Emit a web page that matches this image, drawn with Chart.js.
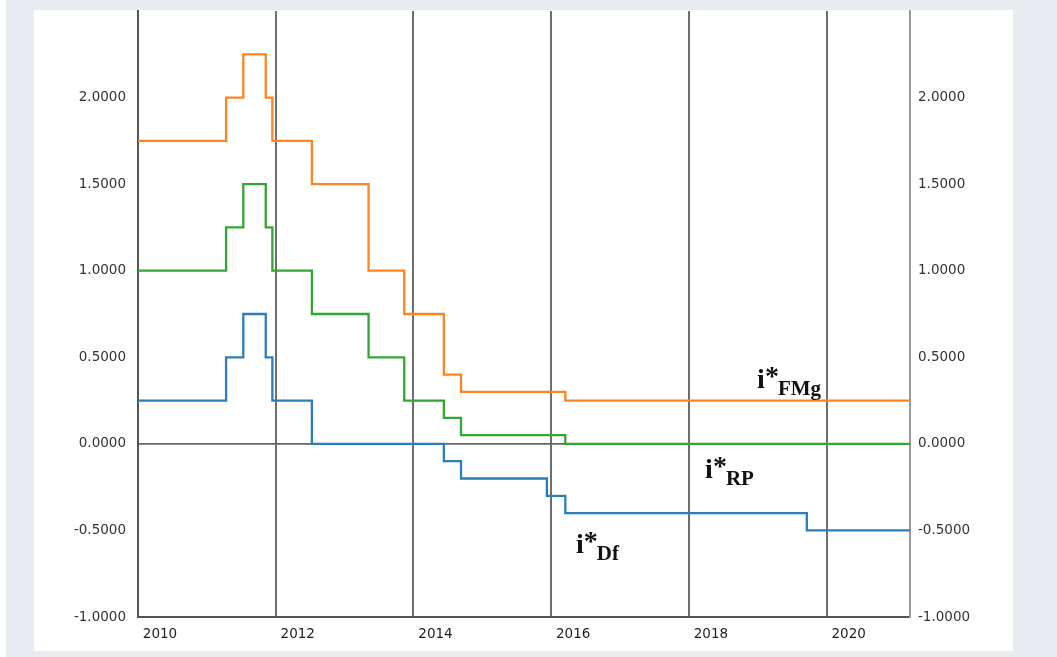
<!DOCTYPE html>
<html>
<head>
<meta charset="utf-8">
<script src="https://cdn.jsdelivr.net/npm/chart.js@4"></script>
<style>
  html, body { margin: 0; padding: 0; background: #ffffff; width: 1057px; height: 657px; overflow: hidden; }
  #outer { position: absolute; left: 6px; top: 0; width: 1051px; height: 657px; background: #e8ecf1; }
  #panel { position: absolute; left: 34px; top: 10px; width: 979px; height: 641px; background: #ffffff; }
  canvas { display: block; }
</style>
</head>
<body>
<div id="outer"></div>
<div id="panel"><canvas id="c" width="979" height="641"></canvas></div>
<script>
// ---- data (decimal years, rates in %) ----
const xMin = 2010;
const xMax = 2021.21;
const yTicksMin = -1;
const yTicksMax = 2.5;

const fmgDates = [2010, 2011.279, 2011.529, 2011.855, 2011.951, 2012.525, 2013.348, 2013.866, 2014.441, 2014.690, 2016.205, 2021.21];
const fmgRates = [1.75, 2.00, 2.25, 2.00, 1.75, 1.50, 1.00, 0.75, 0.40, 0.30, 0.25, 0.25];

const rpDates = [2010, 2011.279, 2011.529, 2011.855, 2011.951, 2012.525, 2013.348, 2013.866, 2014.441, 2014.690, 2016.205, 2021.21];
const rpRates = [1.00, 1.25, 1.50, 1.25, 1.00, 0.75, 0.50, 0.25, 0.15, 0.05, 0.00, 0.00];

const dfDates = [2010, 2011.279, 2011.529, 2011.855, 2011.951, 2012.525, 2014.441, 2014.690, 2015.937, 2016.205, 2019.712, 2021.21];
const dfRates = [0.25, 0.50, 0.75, 0.50, 0.25, 0.00, -0.10, -0.20, -0.30, -0.40, -0.50, -0.50];

const seriesNames = ['FMg', 'RP', 'Df'];
const labelYears = [2018.99, 2018.235, 2016.36];
const labelValues = [0.323, -0.197, -0.630];

const toPoints = (xs, ys) => xs.map((x, i) => ({ x: x, y: ys[i] }));

const subLabels = {
  id: 'subLabels',
  afterDatasetsDraw(chart) {
    const { ctx, scales: { x, y } } = chart;
    seriesNames.forEach((name, i) => {
      const px = x.getPixelForValue(labelYears[i]);
      const py = y.getPixelForValue(labelValues[i]);
      ctx.save();
      ctx.fillStyle = '#111';
      ctx.textAlign = 'left';
      ctx.textBaseline = 'alphabetic';
      ctx.font = 'bold 28px "Liberation Serif"';
      ctx.fillText('i', px, py);
      const w1 = ctx.measureText('i').width;
      ctx.fillText('*', px + w1, py - 3);
      const w2 = ctx.measureText('*').width;
      ctx.font = 'bold 21px "Liberation Serif"';
      ctx.fillText(name, px + w1 + w2 - 1, py + 7);
      ctx.restore();
    });
  }
};

const tickFont = { family: '"DejaVu Sans", Verdana, sans-serif', size: 13.5 };
const fitY = w => s => { s.width = w; s.paddingTop = 0; s.paddingBottom = 0; };

new Chart(document.getElementById('c'), {
  type: 'line',
  data: {
    datasets: [
      { label: 'i*FMg', data: toPoints(fmgDates, fmgRates), borderColor: '#ff8420', borderWidth: 2.3, stepped: 'before', pointRadius: 0, fill: false },
      { label: 'i*RP', data: toPoints(rpDates, rpRates), borderColor: '#32a532', borderWidth: 2.3, stepped: 'before', pointRadius: 0, fill: false },
      { label: 'i*Df', data: toPoints(dfDates, dfRates), borderColor: '#2a7fba', borderWidth: 2.3, stepped: 'before', pointRadius: 0, fill: false }
    ]
  },
  options: {
    responsive: false,
    animation: false,
    layout: { padding: { top: 1, left: 0, right: 0, bottom: 0 } },
    plugins: { legend: { display: false }, tooltip: { enabled: false } },
    scales: {
      x: {
        type: 'linear',
        position: 'bottom',
        min: xMin,
        max: xMax,
        afterFit: s => { s.height = 34; s.paddingLeft = 0; s.paddingRight = 0; },
        grid: {
          color: c => (c.tick && Math.abs(c.tick.value - xMax) < 1e-6) ? '#9a9a9a' : '#6e6e6e',
          lineWidth: 2,
          drawTicks: false
        },
        border: { display: true, color: '#555555', width: 2 },
        ticks: {
          stepSize: 2,
          autoSkip: false,
          maxRotation: 0,
          padding: 9,
          labelOffset: 22,
          color: '#1e1e1e',
          font: tickFont,
          callback: v => (Number.isInteger(v) && v % 2 === 0) ? String(v) : ''
        }
      },
      y: {
        position: 'left',
        min: yTicksMin,
        max: yTicksMax,
        afterFit: fitY(104),
        grid: {
          color: c => (c.tick && c.tick.value === 0) ? '#666666' : 'rgba(0,0,0,0)',
          lineWidth: 1.8,
          drawTicks: false
        },
        border: { display: true, color: '#555555', width: 2 },
        ticks: {
          stepSize: 0.5,
          padding: 12,
          color: '#333333',
          font: tickFont,
          callback: v => v >= 2.5 ? '' : Number(v).toFixed(4)
        }
      },
      y2: {
        position: 'right',
        min: yTicksMin,
        max: yTicksMax,
        afterFit: fitY(103),
        grid: { display: false, drawTicks: false },
        border: { display: true, color: '#9a9a9a', width: 2 },
        ticks: {
          stepSize: 0.5,
          padding: 8,
          color: '#333333',
          font: tickFont,
          callback: v => v >= 2.5 ? '' : Number(v).toFixed(4)
        }
      }
    }
  },
  plugins: [subLabels]
});
</script>
</body>
</html>
